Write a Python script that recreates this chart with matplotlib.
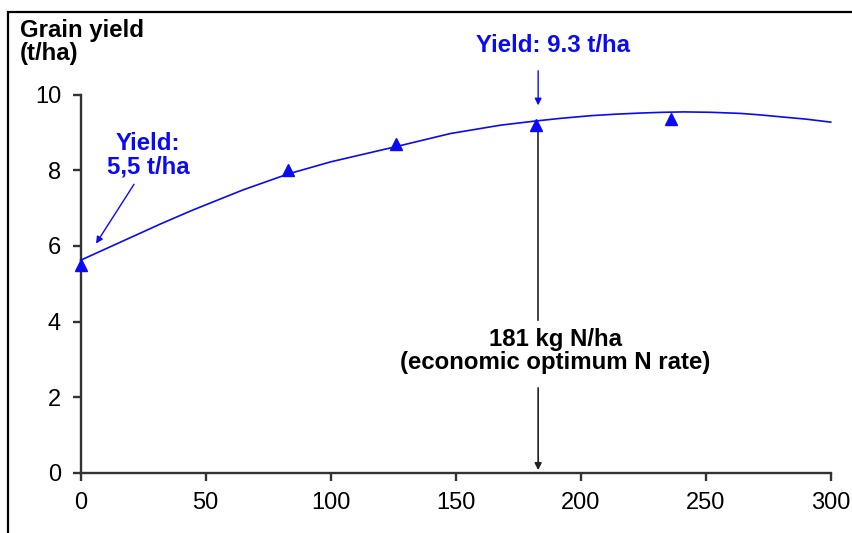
import matplotlib
matplotlib.use("Agg")
import matplotlib.pyplot as plt
from matplotlib.patches import Rectangle

# N rate trial (kg N/ha) and measured grain yield (t/ha)
n_rate = [0, 83, 126, 182, 236]
yield_obs = [5.5, 8.0, 8.7, 9.2, 9.35]

# response curve
curve_n = [0, 18, 32, 45, 65, 83, 100, 126, 148, 168, 182, 192, 204, 214, 224, 233,
           241, 252, 264, 272, 280, 290, 300]
curve_y = [5.62, 6.16, 6.58, 6.95, 7.48, 7.9, 8.22, 8.62, 8.97, 9.19, 9.3, 9.37, 9.44,
           9.48, 9.51, 9.53, 9.54, 9.53, 9.5, 9.46, 9.41, 9.35, 9.27]

eonr = 183
eonr_yield = 9.3
base_yield = 5.5

blue = "#0a0af5"
bold = dict(family=["Liberation Sans", "DejaVu Sans"], fontweight="bold", fontsize=17.3)
tickfont = ["Liberation Sans Narrow", "Liberation Sans", "DejaVu Sans"]

fig = plt.figure(figsize=(8.53, 5.33), dpi=100)
ax = fig.add_axes([0.0944, 0.1126, 0.8795, 0.7101])

ax.plot(curve_n, curve_y, color=blue, lw=1.2, clip_on=False, zorder=3)
ax.plot(n_rate, yield_obs, ls="none", marker="^", ms=8, color=blue,
        clip_on=False, zorder=4)

ax.set_xlim(0, 300)
ax.set_ylim(0, 10)
ax.set_xticks(range(0, 301, 50))
ax.set_yticks(range(0, 11, 2))
for s in ["top", "right"]:
    ax.spines[s].set_visible(False)
for s in ["left", "bottom"]:
    ax.spines[s].set_color("#333333")
    ax.spines[s].set_linewidth(1.7)
ax.tick_params(direction="out", length=6, width=1.7, color="#333333", pad=8,
               labelsize=17)
for lab in ax.get_xticklabels() + ax.get_yticklabels():
    lab.set_family(tickfont)

# y axis title
fig.text(20 / 853, 1 - 19 / 533, "Grain yield\n(t/ha)", ha="left", va="top",
         linespacing=1.0, color="black", **bold)

# unfertilised yield
ax.text(27, 8.4, "Yield:\n5,5 t/ha", ha="center", va="center", color=blue,
        linespacing=1.0, **bold)
ax.annotate("", xy=(5.6, 6.0), xytext=(22, 7.69),
            arrowprops=dict(arrowstyle="-|>", color=blue, lw=1.0, mutation_scale=10))

# yield at economic optimum
ax.text(189, 11.3, f"Yield: {eonr_yield} t/ha", ha="center", va="center",
        color=blue, clip_on=False, **bold)
ax.annotate("", xy=(eonr, 9.64), xytext=(eonr, 10.7), annotation_clip=False,
            arrowprops=dict(arrowstyle="-|>", color=blue, lw=1.0, mutation_scale=10))

# economic optimum N rate
ax.plot([eonr, eonr], [9.22, 4.04], color="#222222", lw=1.2, zorder=2)
ax.annotate("", xy=(eonr, 0), xytext=(eonr, 2.32),
            arrowprops=dict(arrowstyle="-|>", color="#222222", lw=1.2, mutation_scale=10))
ax.text(190, 3.21, f"{eonr - 2} kg N/ha\n(economic optimum N rate)", ha="center",
        va="center", color="black", linespacing=1.0, **bold)

# frame around the picture
fig.patches.append(Rectangle((8 / 853, -0.1), 1.2, 1.1 - 12 / 533, transform=fig.transFigure,
                             fill=False, ec="black", lw=1.6))

fig.savefig("out.png", dpi=100)
